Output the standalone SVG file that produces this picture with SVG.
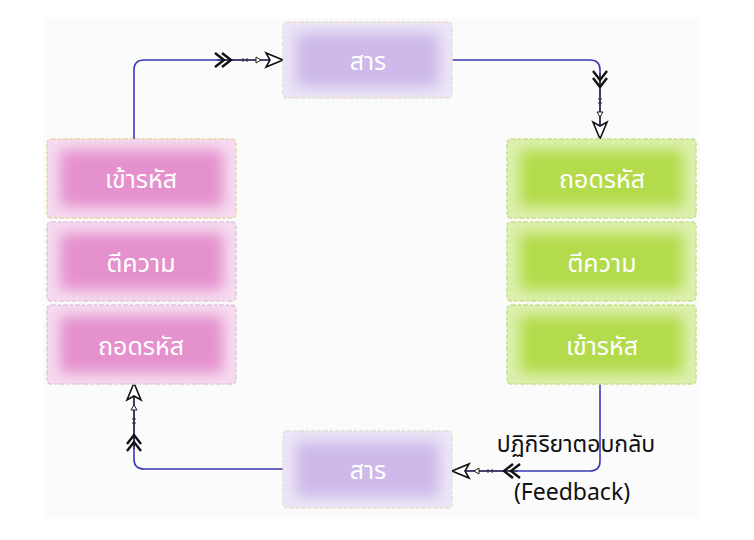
<svg xmlns="http://www.w3.org/2000/svg" width="754" height="540" viewBox="0 0 754 540">
<defs>
<style>
.lbl{font-family:"Noto Sans","Noto Sans Thai","DejaVu Sans",sans-serif;font-size:25px;fill:#ffffff;text-anchor:middle;dominant-baseline:central}
.conn{fill:none;stroke:#3a3ab8;stroke-width:1.6}
.cap{font-family:"Noto Sans","Noto Sans Thai","DejaVu Sans",sans-serif;font-size:23px;fill:#111111}
.edge{stroke-width:1.5;stroke-dasharray:5 2 3 2}
</style>
<filter id="blur" x="-20%" y="-40%" width="140%" height="180%"><feGaussianBlur stdDeviation="7"/></filter>
<g id="deco">
<line x1="-66" y1="0" x2="-4" y2="0" stroke="#222" stroke-width="1.2"/>
<path d="M-68,-7 L-59,0 L-68,7 M-61,-7 L-52,0 L-61,7" fill="none" stroke="#111" stroke-width="2.4"/>
<path d="M-40,-2 V2 M-36,-2 V2" stroke="#333" stroke-width="1"/>
<path d="M-22,0 L-27,-3 L-27,3 Z" fill="#fff" stroke="#222" stroke-width="1"/>
<path d="M0,0 L-17,-7 L-13,0 L-17,7 Z" fill="#fff" stroke="#111" stroke-width="1.6"/>
</g>
</defs>
<rect width="754" height="540" fill="#ffffff"/>
<rect x="43" y="18" width="657" height="500" fill="#fbfbfb"/>

<g id="connectors">
<path class="conn" d="M134,139 V70 Q134,60 144,60 H283"/>
<path class="conn" d="M452,60 H590 Q600,60 600,70 V139"/>
<path class="conn" d="M600,383 V461 Q600,471 590,471 H452"/>
<path class="conn" d="M283,469 H144 Q134,469 134,459 V383"/>
<use href="#deco" transform="translate(283,60)"/>
<use href="#deco" transform="translate(600,139) rotate(90)"/>
<use href="#deco" transform="translate(452,471) rotate(180)"/>
<use href="#deco" transform="translate(134,383) rotate(-90)"/>
</g>

<g id="msg-top">
<rect x="283" y="22" width="169" height="76" rx="4" fill="#ece6f7" class="edge" stroke="#e8e0d0"/>
<rect x="296" y="33" width="143" height="54" fill="#cdb9ea" filter="url(#blur)"/>
<text class="lbl" x="368" y="60">สาร</text>
</g>

<g id="left-encode">
<rect x="47" y="139" width="189" height="79" rx="4" fill="#f6dcf0" class="edge" stroke="#e8d8a8"/>
<rect x="60" y="150" width="163" height="57" fill="#e591cd" filter="url(#blur)"/>
<text class="lbl" x="141" y="178">เข้ารหัส</text>
</g>
<g id="left-interpret">
<rect x="47" y="222" width="189" height="79" rx="4" fill="#f6dcf0" class="edge" stroke="#e0c8e0"/>
<rect x="60" y="233" width="163" height="57" fill="#e591cd" filter="url(#blur)"/>
<text class="lbl" x="141" y="262">ตีความ</text>
</g>
<g id="left-decode">
<rect x="47" y="305" width="189" height="79" rx="4" fill="#f6dcf0" class="edge" stroke="#e0c8e0"/>
<rect x="60" y="316" width="163" height="57" fill="#e591cd" filter="url(#blur)"/>
<text class="lbl" x="141" y="345">ถอดรหัส</text>
</g>

<g id="right-decode">
<rect x="507" y="139" width="189" height="79" rx="4" fill="#ddf0b0" class="edge" stroke="#c8e090"/>
<rect x="520" y="150" width="163" height="57" fill="#b4db4c" filter="url(#blur)"/>
<text class="lbl" x="602" y="178">ถอดรหัส</text>
</g>
<g id="right-interpret">
<rect x="507" y="222" width="189" height="79" rx="4" fill="#ddf0b0" class="edge" stroke="#c8e090"/>
<rect x="520" y="233" width="163" height="57" fill="#b4db4c" filter="url(#blur)"/>
<text class="lbl" x="602" y="262">ตีความ</text>
</g>
<g id="right-encode">
<rect x="507" y="305" width="189" height="79" rx="4" fill="#ddf0b0" class="edge" stroke="#c8e090"/>
<rect x="520" y="316" width="163" height="57" fill="#b4db4c" filter="url(#blur)"/>
<text class="lbl" x="602" y="345">เข้ารหัส</text>
</g>

<g id="msg-bottom">
<rect x="283" y="431" width="169" height="77" rx="4" fill="#ece6f7" class="edge" stroke="#e8e0d0"/>
<rect x="296" y="442" width="143" height="55" fill="#cdb9ea" filter="url(#blur)"/>
<text class="lbl" x="368" y="469">สาร</text>
</g>

<g id="feedback-label">
<text class="cap" x="576" y="452" text-anchor="middle">ปฏิกิริยาตอบกลับ</text>
<text class="cap" x="572" y="500" text-anchor="middle">(Feedback)</text>
</g>
</svg>
